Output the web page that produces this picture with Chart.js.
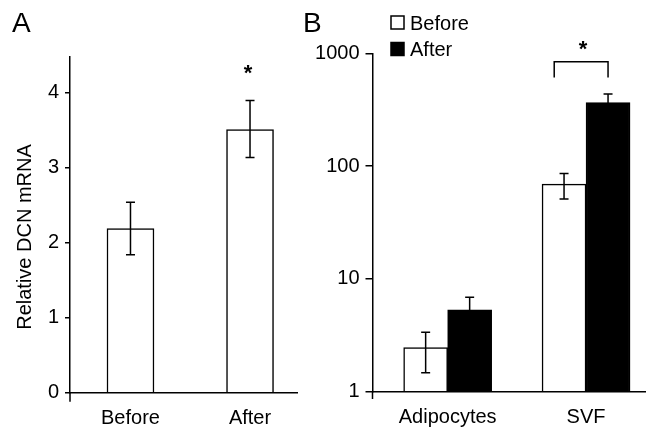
<!DOCTYPE html>
<html>
<head>
<meta charset="utf-8">
<title>DCN mRNA</title>
<script src="https://cdn.jsdelivr.net/npm/chart.js@4.4.1/dist/chart.umd.min.js"></script>
<style>
  html, body { margin: 0; padding: 0; background: #fff; overflow: hidden; }
  #wrap { position: relative; width: 646px; height: 431px; }
  canvas { position: absolute; top: 0; }
  #chartA { left: 0; }
  #chartB { left: 300px; }
</style>
</head>
<body>
<div id="wrap">
  <canvas id="chartA" width="300" height="431"></canvas>
  <canvas id="chartB" width="346" height="431"></canvas>
</div>
<script>
// === DADOS: painel A ===
const catsA = ['Before', 'After'];
const meanA = [2.19, 3.51];
const errHiA = [2.54, 3.90];
const errLoA = [1.84, 3.14];
const ticksA = [0, 1, 2, 3, 4];

// === DADOS: painel B ===
const catsB = ['Adipocytes', 'SVF'];
const seriesB = ['Before', 'After'];
const beforeB = [2.45, 69];
const beforeHiB = [3.36, 86];
const beforeLoB = [1.47, 51];
const afterB = [5.3, 365];
const afterHiB = [6.87, 435];
const afterLoB = [4.1, 305];
const ticksB = [1, 10, 100, 1000];

const FONT = '"Liberation Sans", Arial, Helvetica, sans-serif';
Chart.defaults.font.family = FONT;
Chart.defaults.color = '#000';

// barras de erro (desenhadas depois das barras)
const errorBars = {
  id: 'errorBars',
  afterDatasetsDraw(chart) {
    const ctx = chart.ctx;
    const y = chart.scales.y;
    chart.data.datasets.forEach((ds, i) => {
      if (!ds.errHi) return;
      chart.getDatasetMeta(i).data.forEach((bar, j) => {
        const top = y.getPixelForValue(ds.errHi[j]);
        const bot = y.getPixelForValue(ds.errLo[j]);
        ctx.save();
        ctx.strokeStyle = '#000';
        ctx.lineWidth = 1.5;
        ctx.beginPath();
        ctx.moveTo(bar.x, top); ctx.lineTo(bar.x, bot);
        ctx.moveTo(bar.x - 4.5, top); ctx.lineTo(bar.x + 4.5, top);
        ctx.moveTo(bar.x - 4.5, bot); ctx.lineTo(bar.x + 4.5, bot);
        ctx.stroke();
        ctx.restore();
      });
    });
  }
};

// prolongamento do eixo y abaixo do eixo x
function axisStub(chart, len) {
  const {ctx, chartArea} = chart;
  ctx.save();
  ctx.strokeStyle = '#000';
  ctx.lineWidth = 1.5;
  ctx.beginPath();
  ctx.moveTo(chartArea.left, chartArea.bottom);
  ctx.lineTo(chartArea.left, chartArea.bottom + len);
  ctx.stroke();
  ctx.restore();
}

function panelLetter(ctx, txt, x) {
  ctx.save();
  ctx.fillStyle = '#000';
  ctx.font = '28px ' + FONT;
  ctx.textAlign = 'left';
  ctx.textBaseline = 'alphabetic';
  ctx.fillText(txt, x, 32);
  ctx.restore();
}

function star(ctx, x, yCenter) {
  ctx.save();
  ctx.fillStyle = '#000';
  ctx.font = 'bold 22px ' + FONT;
  ctx.textAlign = 'center';
  ctx.textBaseline = 'alphabetic';
  ctx.fillText('*', x, yCenter + 12.5);
  ctx.restore();
}

function fixedTicks(list) {
  return s => { s.ticks = list.map(v => ({value: v})); };
}

// === PAINEL A ===
const extrasA = {
  id: 'extrasA',
  afterDraw(chart) {
    const ctx = chart.ctx;
    axisStub(chart, 9);
    panelLetter(ctx, 'A', 12);
    // titulo do eixo y
    ctx.save();
    ctx.translate(25, 237);
    ctx.rotate(-Math.PI / 2);
    ctx.fillStyle = '#000';
    ctx.font = '20px ' + FONT;
    ctx.textAlign = 'center';
    ctx.textBaseline = 'middle';
    ctx.fillText('Relative DCN mRNA', 0, 0);
    ctx.restore();
    // asterisco sobre "After"
    const bar = chart.getDatasetMeta(0).data[1];
    star(ctx, bar.x - 2, chart.scales.y.getPixelForValue(errHiA[1]) - 33);
  }
};

new Chart(document.getElementById('chartA'), {
  type: 'bar',
  data: {
    datasets: [{
      label: 'DCN',
      data: meanA.map((v, i) => ({x: i, y: v})),
      errHi: errHiA,
      errLo: errLoA,
      backgroundColor: '#fff',
      borderColor: '#000',
      borderWidth: 1.5,
      barThickness: 47
    }]
  },
  options: {
    responsive: false,
    animation: false,
    layout: { padding: { left: 0, top: 57, right: 3, bottom: 0 } },
    plugins: { legend: { display: false }, tooltip: { enabled: false } },
    scales: {
      x: {
        type: 'linear',
        offset: false,
        min: -0.506,
        max: 1.393,
        afterBuildTicks: fixedTicks(catsA.map((_, i) => i)),
        afterFit: s => { s.height = 38.3; },
        grid: { display: false, drawTicks: false, offset: false },
        border: { display: true, color: '#000', width: 1.5, z: 1 },
        ticks: { callback: v => catsA[v], font: { size: 20 }, color: '#000', padding: 14, maxRotation: 0 }
      },
      y: {
        type: 'linear',
        min: 0,
        max: 4.48,
        afterBuildTicks: fixedTicks(ticksA),
        afterFit: s => { s.width = 70; },
        grid: { drawOnChartArea: false, drawTicks: true, tickLength: 5, color: '#000', lineWidth: 1.5 },
        border: { display: true, color: '#000', width: 1.5, z: 1 },
        ticks: { font: { size: 20 }, color: '#000', padding: 6 }
      }
    }
  },
  plugins: [errorBars, extrasA]
});

// === PAINEL B ===
const extrasB = {
  id: 'extrasB',
  afterDraw(chart) {
    const ctx = chart.ctx;
    const x = chart.scales.x, y = chart.scales.y;
    axisStub(chart, 7.5);
    panelLetter(ctx, 'B', 3);

    // legenda
    chart.data.datasets.forEach((ds, i) => {
      const top = 16 + i * 26.5;
      ctx.save();
      ctx.fillStyle = ds.backgroundColor;
      ctx.strokeStyle = '#000';
      ctx.lineWidth = 1.5;
      ctx.fillRect(91, top, 13, 13);
      ctx.strokeRect(91, top, 13, 13);
      ctx.fillStyle = '#000';
      ctx.font = '20px ' + FONT;
      ctx.textAlign = 'left';
      ctx.textBaseline = 'alphabetic';
      ctx.fillText(ds.label, 110, top + 13.5);
      ctx.restore();
    });

    // colchete de significancia sobre SVF
    const x1 = x.getPixelForValue(0.77);
    const x2 = chart.getDatasetMeta(1).data[1].x;
    const yTop = y.getPixelForValue(840);
    const yLeg = y.getPixelForValue(610);
    ctx.save();
    ctx.strokeStyle = '#000';
    ctx.lineWidth = 1.5;
    ctx.beginPath();
    ctx.moveTo(x1, yLeg); ctx.lineTo(x1, yTop); ctx.lineTo(x2, yTop); ctx.lineTo(x2, yLeg);
    ctx.stroke();
    ctx.restore();
    star(ctx, (x1 + x2) / 2 + 2, yTop - 18);
  }
};

new Chart(document.getElementById('chartB'), {
  type: 'bar',
  data: {
    datasets: [{
      label: seriesB[0],
      data: beforeB.map((v, i) => ({x: i, y: v})),
      errHi: beforeHiB,
      errLo: beforeLoB,
      backgroundColor: '#fff',
      borderColor: '#000',
      borderWidth: 1.5,
      barThickness: 44
    }, {
      label: seriesB[1],
      data: afterB.map((v, i) => ({x: i, y: v})),
      errHi: afterHiB,
      errLo: afterLoB,
      backgroundColor: '#000',
      borderColor: '#000',
      borderWidth: 1.5,
      barThickness: 44
    }]
  },
  options: {
    responsive: false,
    animation: false,
    layout: { padding: { left: 0, top: 53.3, right: 1, bottom: 0 } },
    plugins: { legend: { display: false }, tooltip: { enabled: false } },
    scales: {
      x: {
        type: 'linear',
        offset: false,
        min: -0.543,
        max: 1.426,
        afterBuildTicks: fixedTicks(catsB.map((_, i) => i)),
        afterFit: s => { s.height = 39.5; },
        grid: { display: false, drawTicks: false, offset: false },
        border: { display: true, color: '#000', width: 1.5, z: 1 },
        ticks: { callback: v => catsB[v], font: { size: 20 }, color: '#000', padding: 14, maxRotation: 0 }
      },
      y: {
        type: 'logarithmic',
        min: 1,
        max: 1000,
        afterBuildTicks: fixedTicks(ticksB),
        afterFit: s => { s.width = 72.5; },
        grid: { drawOnChartArea: false, drawTicks: true, tickLength: 7, color: '#000', lineWidth: 1.5 },
        border: { display: true, color: '#000', width: 1.5, z: 1 },
        ticks: { callback: v => String(v), font: { size: 20 }, color: '#000', padding: 6 }
      }
    }
  },
  plugins: [errorBars, extrasB]
});
</script>
</body>
</html>
